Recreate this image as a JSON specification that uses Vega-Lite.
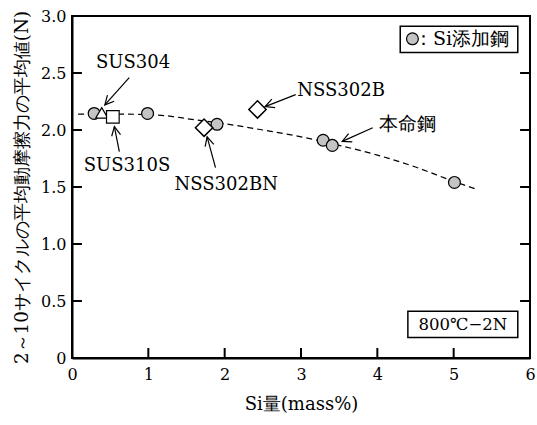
{
  "$schema": "https://vega.github.io/schema/vega-lite/v6.json",
  "width": 458,
  "height": 342,
  "autosize": "none",
  "padding": {"left": 72, "top": 16, "right": 7, "bottom": 67},
  "config": {
    "view": {"stroke": "black", "strokeWidth": 2},
    "font": "DejaVu Serif",
    "axis": {
      "grid": false,
      "ticks": false,
      "domainColor": "black",
      "domainWidth": 2,
      "labelColor": "black",
      "titleColor": "black",
      "labelFont": "DejaVu Serif",
      "labelFontSize": 16,
      "titleFont": "DejaVu Serif",
      "titleFontSize": 18.3,
      "titleFontWeight": "normal"
    }
  },
  "datasets": {
    "si": [
      {"x": 0.29, "y": 2.145},
      {"x": 0.99, "y": 2.145},
      {"x": 1.9, "y": 2.05},
      {"x": 3.29, "y": 1.91},
      {"x": 3.41, "y": 1.865},
      {"x": 5.01, "y": 1.54}
    ],
    "tri": [{"x": 0.39, "y": 2.15}],
    "sq": [{"x": 0.535, "y": 2.115}],
    "dia": [{"x": 1.73, "y": 2.02}, {"x": 2.43, "y": 2.18}],
    "curve": [
      {"x": 0.08, "y": 2.14},
      {"x": 0.5, "y": 2.14},
      {"x": 1.0, "y": 2.135},
      {"x": 1.3, "y": 2.12},
      {"x": 1.5, "y": 2.1},
      {"x": 2.0, "y": 2.055},
      {"x": 2.5, "y": 2.0},
      {"x": 3.0, "y": 1.94},
      {"x": 3.5, "y": 1.865},
      {"x": 4.0, "y": 1.78},
      {"x": 4.5, "y": 1.675},
      {"x": 5.0, "y": 1.55},
      {"x": 5.3, "y": 1.48}
    ],
    "yTicks": [
      {"y": 0.5, "x0": 0, "x1": 0.13}, {"y": 1.0, "x0": 0, "x1": 0.13}, {"y": 1.5, "x0": 0, "x1": 0.13},
      {"y": 2.0, "x0": 0, "x1": 0.13}, {"y": 2.5, "x0": 0, "x1": 0.13},
      {"y": 0.5, "x0": 5.87, "x1": 6}, {"y": 1.0, "x0": 5.87, "x1": 6}, {"y": 1.5, "x0": 5.87, "x1": 6},
      {"y": 2.0, "x0": 5.87, "x1": 6}, {"y": 2.5, "x0": 5.87, "x1": 6}
    ],
    "xTicks": [
      {"x": 1, "y0": 0, "y1": 0.088}, {"x": 2, "y0": 0, "y1": 0.088}, {"x": 3, "y0": 0, "y1": 0.088},
      {"x": 4, "y0": 0, "y1": 0.088}, {"x": 5, "y0": 0, "y1": 0.088}
    ],
    "arrows": [
      {"tx": 0.75, "ty": 2.46, "hx": 0.43, "hy": 2.22},
      {"tx": 0.62, "ty": 1.81, "hx": 0.555, "hy": 2.03},
      {"tx": 1.88, "ty": 1.67, "hx": 1.77, "hy": 1.94},
      {"tx": 2.93, "ty": 2.31, "hx": 2.53, "hy": 2.205},
      {"tx": 3.94, "ty": 2.02, "hx": 3.54, "hy": 1.9}
    ],
    "labelsC": [
      {"x": 0.8, "y": 2.59, "label": "SUS304"},
      {"x": 0.72, "y": 1.68, "label": "SUS310S"},
      {"x": 2.02, "y": 1.52, "label": "NSS302BN"}
    ],
    "labelCond": [
      {"x": 5.12, "y": 0.29, "label": "800℃−2N"}
    ],
    "labelsL": [
      {"x": 2.95, "y": 2.34, "label": "NSS302B"}
    ],
    "labelsJ": [
      {"x": 4.02, "y": 2.05, "label": "本命鋼"},
      {"x": 4.48, "y": 2.8, "label": "：Si添加鋼"}
    ],
    "boxes": [
      {"x1": 4.3, "x2": 5.84, "y1": 2.68, "y2": 2.91},
      {"x1": 4.4, "x2": 5.84, "y1": 0.18, "y2": 0.41}
    ],
    "legendDot": [{"x": 4.46, "y": 2.8}]
  },
  "layer": [
    {
      "data": {"name": "curve"},
      "mark": {"type": "line", "color": "black", "strokeWidth": 1.2, "strokeDash": [6, 4], "interpolate": "monotone"},
      "encoding": {
        "x": {"field": "x", "type": "quantitative", "scale": {"domain": [0, 6], "nice": false}, "title": "Si量(mass%)",
          "axis": {"values": [0, 1, 2, 3, 4, 5, 6], "labelPadding": 8, "titlePadding": 13, "format": "d", "labelFlush": false, "titleFontSize": 18}},
        "y": {"field": "y", "type": "quantitative", "scale": {"domain": [0, 3], "nice": false}, "title": "2～10サイクルの平均動摩擦力の平均値(N)",
          "axis": {"values": [0, 0.5, 1, 1.5, 2, 2.5, 3], "labelPadding": 6, "titlePadding": 9,
            "labelExpr": "datum.value == 0 ? '0' : format(datum.value, '.1f')", "labelFlush": false}}
      }
    },
    {
      "data": {"name": "yTicks"},
      "mark": {"type": "rule", "color": "black", "strokeWidth": 2},
      "encoding": {
        "x": {"field": "x0", "type": "quantitative"},
        "x2": {"field": "x1"},
        "y": {"field": "y", "type": "quantitative"}
      }
    },
    {
      "data": {"name": "xTicks"},
      "mark": {"type": "rule", "color": "black", "strokeWidth": 2},
      "encoding": {
        "x": {"field": "x", "type": "quantitative"},
        "y": {"field": "y0", "type": "quantitative"},
        "y2": {"field": "y1"}
      }
    },
    {
      "data": {"name": "si"},
      "mark": {"type": "point", "shape": "circle", "filled": true, "fill": "#c4c4c4", "stroke": "black", "strokeWidth": 1.2, "size": 140, "opacity": 1},
      "encoding": {"x": {"field": "x", "type": "quantitative"}, "y": {"field": "y", "type": "quantitative"}}
    },
    {
      "data": {"name": "tri"},
      "mark": {"type": "point", "shape": "triangle-up", "filled": true, "fill": "white", "stroke": "black", "strokeWidth": 1.2, "size": 150, "opacity": 1},
      "encoding": {"x": {"field": "x", "type": "quantitative"}, "y": {"field": "y", "type": "quantitative"}}
    },
    {
      "data": {"name": "sq"},
      "mark": {"type": "point", "shape": "square", "filled": true, "fill": "white", "stroke": "black", "strokeWidth": 1.2, "size": 160, "opacity": 1},
      "encoding": {"x": {"field": "x", "type": "quantitative"}, "y": {"field": "y", "type": "quantitative"}}
    },
    {
      "data": {"name": "dia"},
      "mark": {"type": "point", "shape": "diamond", "filled": true, "fill": "white", "stroke": "black", "strokeWidth": 1.5, "size": 300, "opacity": 1},
      "encoding": {"x": {"field": "x", "type": "quantitative"}, "y": {"field": "y", "type": "quantitative"}}
    },
    {
      "data": {"name": "arrows"},
      "mark": {"type": "rule", "color": "black", "strokeWidth": 1.2},
      "encoding": {
        "x": {"field": "tx", "type": "quantitative"},
        "y": {"field": "ty", "type": "quantitative"},
        "x2": {"field": "hx"},
        "y2": {"field": "hy"}
      }
    },
    {
      "data": {"name": "arrows"},
      "transform": [{"calculate": "atan2(-(datum.hy - datum.ty) * 113.7, (datum.hx - datum.tx) * 76.17) * 180 / PI", "as": "ang"}],
      "mark": {"type": "point", "shape": "M-1,-0.5L0,0L-1,0.5", "filled": false, "stroke": "black", "strokeWidth": 1.2, "size": 324, "opacity": 1},
      "encoding": {
        "x": {"field": "hx", "type": "quantitative"},
        "y": {"field": "hy", "type": "quantitative"},
        "angle": {"field": "ang", "type": "quantitative", "scale": null}
      }
    },
    {
      "data": {"name": "boxes"},
      "mark": {"type": "rect", "fill": "white", "stroke": "black", "strokeWidth": 1.5},
      "encoding": {
        "x": {"field": "x1", "type": "quantitative"},
        "x2": {"field": "x2"},
        "y": {"field": "y1", "type": "quantitative"},
        "y2": {"field": "y2"}
      }
    },
    {
      "data": {"name": "legendDot"},
      "mark": {"type": "point", "shape": "circle", "filled": true, "fill": "#c4c4c4", "stroke": "black", "strokeWidth": 1.2, "size": 140, "opacity": 1},
      "encoding": {"x": {"field": "x", "type": "quantitative"}, "y": {"field": "y", "type": "quantitative"}}
    },
    {
      "data": {"name": "labelsC"},
      "mark": {"type": "text", "align": "center", "baseline": "middle", "fontSize": 18, "font": "DejaVu Serif", "color": "black"},
      "encoding": {"x": {"field": "x", "type": "quantitative"}, "y": {"field": "y", "type": "quantitative"}, "text": {"field": "label"}}
    },
    {
      "data": {"name": "labelCond"},
      "mark": {"type": "text", "align": "center", "baseline": "middle", "fontSize": 16.5, "font": "DejaVu Serif", "color": "black"},
      "encoding": {"x": {"field": "x", "type": "quantitative"}, "y": {"field": "y", "type": "quantitative"}, "text": {"field": "label"}}
    },
    {
      "data": {"name": "labelsL"},
      "mark": {"type": "text", "align": "left", "baseline": "middle", "fontSize": 18, "font": "DejaVu Serif", "color": "black"},
      "encoding": {"x": {"field": "x", "type": "quantitative"}, "y": {"field": "y", "type": "quantitative"}, "text": {"field": "label"}}
    },
    {
      "data": {"name": "labelsJ"},
      "mark": {"type": "text", "align": "left", "baseline": "middle", "fontSize": 19, "font": "DejaVu Serif", "color": "black"},
      "encoding": {"x": {"field": "x", "type": "quantitative"}, "y": {"field": "y", "type": "quantitative"}, "text": {"field": "label"}}
    }
  ]
}
